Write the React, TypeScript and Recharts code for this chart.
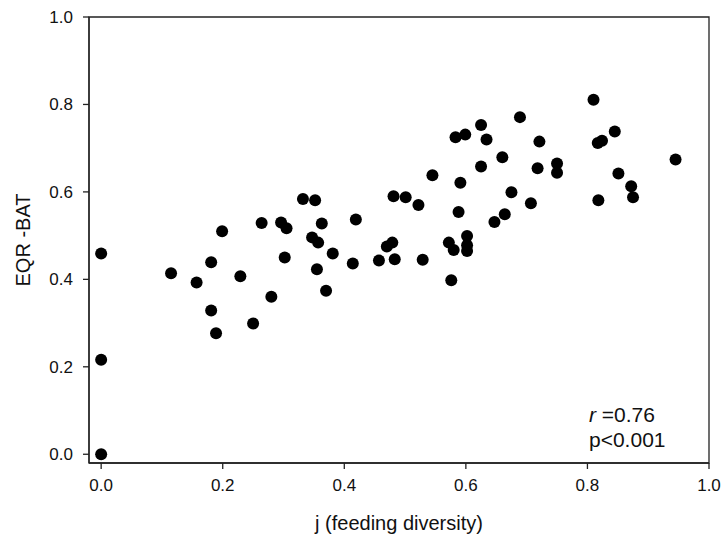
import React from 'react';
import { ScatterChart, Scatter, XAxis, YAxis, ReferenceArea, Customized } from 'recharts';

const feedingDiversity = [
  0, 0, 0, 0.115, 0.157, 0.181, 0.181, 0.189, 0.199, 0.229, 0.25, 0.264, 0.28, 0.296, 0.302, 0.305,
  0.332, 0.347, 0.352, 0.355, 0.357, 0.363, 0.37, 0.381, 0.414, 0.419, 0.457, 0.47, 0.479, 0.481,
  0.483, 0.501, 0.522, 0.529, 0.545, 0.572, 0.576, 0.58, 0.583, 0.588, 0.591, 0.599, 0.602, 0.602,
  0.602, 0.625, 0.625, 0.634, 0.647, 0.66, 0.664, 0.675, 0.689, 0.707, 0.718, 0.721, 0.75, 0.75,
  0.81, 0.817, 0.818, 0.824, 0.845, 0.851, 0.872, 0.875, 0.945,
];
const eqrBat = [
  0, 0.216, 0.459, 0.414, 0.393, 0.439, 0.329, 0.277, 0.51, 0.407, 0.299, 0.529, 0.36, 0.53, 0.45, 0.517,
  0.584, 0.496, 0.581, 0.423, 0.484, 0.528, 0.374, 0.459, 0.436, 0.537, 0.443, 0.475, 0.484, 0.59,
  0.446, 0.588, 0.57, 0.445, 0.638, 0.484, 0.398, 0.467, 0.725, 0.554, 0.621, 0.731, 0.499, 0.478,
  0.465, 0.658, 0.753, 0.72, 0.531, 0.679, 0.549, 0.599, 0.771, 0.574, 0.654, 0.715, 0.665, 0.644,
  0.811, 0.712, 0.581, 0.717, 0.738, 0.642, 0.613, 0.588, 0.674,
];
const xTicks = [0, 0.2, 0.4, 0.6, 0.8, 1.0];
const yTicks = [0, 0.2, 0.4, 0.6, 0.8, 1.0];

const data = feedingDiversity.map((x, i) => ({ x, y: eqrBat[i] }));

const FONT = '"Liberation Sans", Arial, sans-serif';
const AXIS = '#222';

const Dot = (props: any) => <circle cx={props.cx} cy={props.cy} r={6} fill="#000" />;

const Annotation = () => (
  <g fontFamily={FONT} fontSize={21} fill="#111">
    <text x={589} y={422}>
      <tspan fontStyle="italic">r</tspan>
      <tspan> =0.76</tspan>
    </text>
    <text x={589} y={447}>p&lt;0.001</text>
  </g>
);

const YLabel = (props: any) => {
  const vb = props.viewBox || { x: 0, y: 17, width: 89, height: 446 };
  const cx = 30;
  const cy = vb.y + vb.height / 2;
  return (
    <text
      x={cx}
      y={cy}
      transform={`rotate(-90, ${cx}, ${cy})`}
      textAnchor="middle"
      fontFamily={FONT}
      fontSize={20}
      fill="#111"
    >
      EQR -BAT
    </text>
  );
};

export default function App() {
  return (
    <div style={{ position: 'absolute', left: 0, top: 0, background: '#fff' }}>
      <ScatterChart width={721} height={537} margin={{ top: 17, right: 12, bottom: 0, left: 0 }}>
        <XAxis
          type="number"
          dataKey="x"
          domain={[-0.02, 1.0]}
          ticks={xTicks}
          tickFormatter={(v: number) => v.toFixed(1)}
          allowDataOverflow
          height={74}
          tickSize={6}
          tickMargin={10}
          stroke={AXIS}
          strokeWidth={1.3}
          tick={{ fontFamily: FONT, fontSize: 17, fill: '#111' }}
          label={{
            value: 'j (feeding diversity)',
            position: 'insideBottom',
            offset: 7,
            fontFamily: FONT,
            fontSize: 20,
            fill: '#111',
          }}
        />
        <YAxis
          type="number"
          dataKey="y"
          domain={[-0.02, 1.0]}
          ticks={yTicks}
          tickFormatter={(v: number) => v.toFixed(1)}
          allowDataOverflow
          width={89}
          tickSize={6}
          tickMargin={10}
          stroke={AXIS}
          strokeWidth={1.3}
          tick={{ fontFamily: FONT, fontSize: 17, fill: '#111' }}
          label={{ content: YLabel }}
        />
        <ReferenceArea
          x1={-0.02}
          x2={1.0}
          y1={-0.02}
          y2={1.0}
          fill="none"
          stroke={AXIS}
          strokeWidth={1.3}
          ifOverflow="visible"
        />
        <Scatter data={data} shape={Dot} isAnimationActive={false} />
        <Customized component={Annotation} />
      </ScatterChart>
    </div>
  );
}
